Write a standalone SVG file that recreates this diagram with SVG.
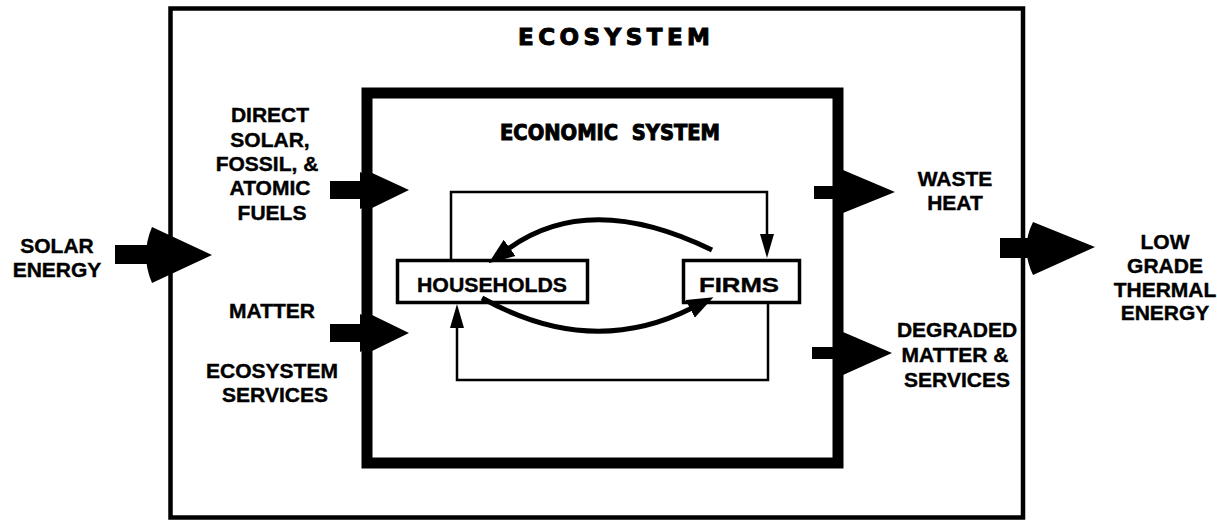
<svg xmlns="http://www.w3.org/2000/svg" width="1217" height="520" viewBox="0 0 1217 520">
<style>
.t{font-family:"Liberation Sans",Arial,sans-serif;font-weight:bold;font-size:21px;fill:#000;text-anchor:middle;stroke:#000;stroke-width:0.4}
.title{font-family:"DejaVu Sans","Liberation Sans",sans-serif;stroke-width:1}
.box{fill:none;stroke:#000}
.flow{fill:none;stroke:#000;stroke-width:2.5}
.curve{fill:none;stroke:#000;stroke-width:5}
.blk{fill:#000;stroke:none}
</style>
<defs>
<marker id="ah" markerUnits="userSpaceOnUse" markerWidth="26" markerHeight="22" refX="2" refY="11" orient="auto">
<path d="M0,1 L26,11 L0,21 Z" fill="#000"/>
</marker>
<marker id="sh" markerUnits="userSpaceOnUse" markerWidth="24" markerHeight="14" refX="2" refY="7" orient="auto">
<path d="M0,0 L24,7 L0,14 Z" fill="#000"/>
</marker>
</defs>

<g id="ecosystem">
<rect class="box" x="170.5" y="8.5" width="852.5" height="509" stroke-width="4.5"/>
<text class="t title" x="614" y="45" style="font-size:23px" textLength="192" lengthAdjust="spacing">ECOSYSTEM</text>
</g>

<g id="economic-system">
<rect class="box" x="367" y="93" width="471" height="370" stroke-width="11"/>
<text class="t title" x="610" y="140" style="font-size:20.5px" textLength="220" lengthAdjust="spacingAndGlyphs" xml:space="preserve">ECONOMIC  SYSTEM</text>
</g>

<g id="households">
<rect class="box" x="397.5" y="260.5" width="190" height="42" stroke-width="3.5" fill="#fff"/>
<text class="t" x="492" y="292" textLength="150" lengthAdjust="spacingAndGlyphs">HOUSEHOLDS</text>
</g>

<g id="firms">
<rect class="box" x="683.5" y="260.5" width="116" height="42" stroke-width="3.5" fill="#fff"/>
<text class="t" x="739" y="292" textLength="80" lengthAdjust="spacingAndGlyphs">FIRMS</text>
</g>

<g id="labels-left">
<text class="t" x="57" y="253">SOLAR</text>
<text class="t" x="57" y="277">ENERGY</text>
<text class="t" x="270" y="122">DIRECT</text>
<text class="t" x="270" y="147">SOLAR,</text>
<text class="t" x="267" y="171">FOSSIL, &amp;</text>
<text class="t" x="270" y="195">ATOMIC</text>
<text class="t" x="272" y="220">FUELS</text>
<text class="t" x="272" y="318">MATTER</text>
<text class="t" x="272" y="378">ECOSYSTEM</text>
<text class="t" x="275" y="402">SERVICES</text>
</g>

<g id="labels-right">
<text class="t" x="955" y="186">WASTE</text>
<text class="t" x="955" y="210">HEAT</text>
<text class="t" x="957" y="337">DEGRADED</text>
<text class="t" x="955" y="362">MATTER &amp;</text>
<text class="t" x="957" y="387">SERVICES</text>
<text class="t" x="1165" y="249">LOW</text>
<text class="t" x="1165" y="273">GRADE</text>
<text class="t" x="1165" y="297">THERMAL</text>
<text class="t" x="1165" y="320">ENERGY</text>
</g>

<g id="connectors">
<!-- solar energy in -->
<rect class="blk" x="115" y="245" width="38" height="19"/>
<path class="blk" d="M152,227 L212,255 L152,283 Q140,255 152,227 Z"/>
<!-- direct fuels in -->
<rect class="blk" x="330" y="181" width="40" height="18"/>
<path class="blk" d="M360,172 Q366,176 370,172 L409,190 L370,209 Q366,205 360,209 Z"/>
<!-- matter / services in -->
<rect class="blk" x="330" y="324" width="40" height="18"/>
<path class="blk" d="M360,314 Q366,318 370,314 L409,333 L370,352 Q366,348 360,352 Z"/>
<!-- waste heat out -->
<rect class="blk" x="814" y="186" width="32" height="13"/>
<path class="blk" d="M843,170 L895,192 L843,213 Z"/>
<!-- degraded matter out -->
<rect class="blk" x="812" y="347" width="34" height="12"/>
<path class="blk" d="M843,332 L892,353 L843,375 Z"/>
<!-- low grade thermal out -->
<rect class="blk" x="1000" y="238" width="35" height="20"/>
<path class="blk" d="M1033,222 L1095,247 L1033,275 Q1020,248 1033,222 Z"/>

<!-- circular flows -->
<path class="flow" d="M451,259 V192 H767 V236" marker-end="url(#sh)"/>
<path class="flow" d="M768,303 V380 H457 V326" marker-end="url(#sh)"/>
<path class="curve" d="M712,250 Q589,190 508,249" marker-end="url(#ah)"/>
<path class="curve" d="M482,298 Q591,359 692,308" marker-end="url(#ah)"/>
</g>
</svg>
